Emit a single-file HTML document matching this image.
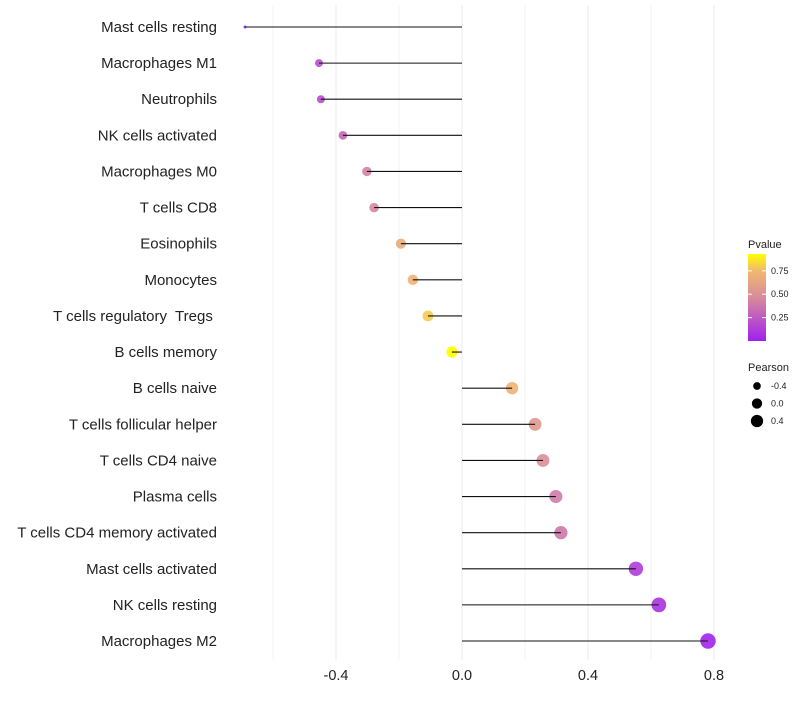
<!DOCTYPE html>
<html><head><meta charset="utf-8"><style>
body{margin:0;background:#fff;font-family:"Liberation Sans",sans-serif}
text{white-space:pre}
</style></head><body>
<svg id="c" width="800" height="700"></svg>
<script>
const cells=["Mast cells resting","Macrophages M1","Neutrophils","NK cells activated","Macrophages M0","T cells CD8","Eosinophils","Monocytes","T cells regulatory  Tregs ","B cells memory","B cells naive","T cells follicular helper","T cells CD4 naive","Plasma cells","T cells CD4 memory activated","Mast cells activated","NK cells resting","Macrophages M2"];
const pearson=[-0.689,-0.454,-0.448,-0.378,-0.302,-0.279,-0.194,-0.156,-0.108,-0.032,0.159,0.232,0.257,0.298,0.314,0.552,0.625,0.781];
const pvalue=[0.05,0.2,0.2,0.3,0.42,0.45,0.68,0.72,0.8,0.93,0.72,0.55,0.48,0.4,0.38,0.12,0.08,0.02];
const xTicks=[-0.4,0.0,0.4,0.8];
const xMinor=[-0.6,-0.2,0.2,0.6];
const legP=[0.25,0.50,0.75];
const legS=[-0.4,0.0,0.4];
const NS="http://www.w3.org/2000/svg";
const svg=document.getElementById('c');
function mk(t,a,p){const e=document.createElementNS(NS,t);for(const k in a)e.setAttribute(k,a[k]);(p||svg).appendChild(e);return e;}
const x=v=>462+v*315;
const y=i=>27+i*(641-27)/17;
const r=v=>1.5+6.2*Math.sqrt(Math.max(0,(v+0.689)/1.47));
const stops=[[0,[160,32,240]],[0.47,[217,140,154]],[0.75,[240,184,112]],[0.93,[255,255,0]]];
function col(p){for(let i=1;i<stops.length;i++){if(p<=stops[i][0]||i==stops.length-1){const a=stops[i-1],b=stops[i];let t=Math.max(0,Math.min(1,(p-a[0])/(b[0]-a[0])));return 'rgb('+a[1].map((c,k)=>Math.round(c+(b[1][k]-c)*t)).join(',')+')';}}}
xMinor.forEach(v=>{const l=mk('line',{x1:x(v),x2:x(v),y1:5,y2:660,stroke:'#f3f3f3','stroke-width':1});

});
xTicks.forEach(v=>{const l=mk('line',{x1:x(v),x2:x(v),y1:5,y2:660,stroke:'#ebebeb','stroke-width':1});


const t=mk('text',{x:x(v),y:680,'text-anchor':'middle','font-size':14.5,fill:'#222'});t.textContent=v.toFixed(1);

});
cells.forEach((c,i)=>{
const t=mk('text',{x:217,y:y(i)+5,'text-anchor':'end','font-size':15,fill:'#222'});t.textContent=c;


const d=mk('circle',{cx:x(pearson[i]),cy:y(i),r:r(pearson[i]),fill:col(pvalue[i]),'fill-opacity':0.9});


const l=mk('line',{x1:x(0),x2:x(pearson[i]),y1:y(i),y2:y(i),stroke:'#111','stroke-width':1.1});


});
const defs=mk('defs',{});const g=mk('linearGradient',{id:'pg',x1:0,y1:1,x2:0,y2:0},defs);
stops.forEach(s=>mk('stop',{offset:s[0]/0.93,'stop-color':'rgb('+s[1].join(',')+')'},g));
let t=mk('text',{x:748,y:248,'font-size':11,fill:'#222'});t.textContent='Pvalue';

const bar=mk('rect',{x:748,y:254,width:18,height:87,fill:'url(#pg)'});

const py=p=>341-p/0.93*87;
legP.forEach(p=>{mk('line',{x1:748,x2:752,y1:py(p),y2:py(p),stroke:'#fff'});mk('line',{x1:762,x2:766,y1:py(p),y2:py(p),stroke:'#fff'});
const tt=mk('text',{x:771,y:py(p)+3,'font-size':9,fill:'#222'});tt.textContent=p.toFixed(2);
});
t=mk('text',{x:748,y:371,'font-size':11,fill:'#222'});t.textContent='Pearson';

legS.forEach((s,i)=>{const cy=386+i*17.5;const cc=mk('circle',{cx:757,cy:cy,r:r(s)*0.9,fill:'#000'});

const tt=mk('text',{x:771,y:cy+3,'font-size':9,fill:'#222'});tt.textContent=s.toFixed(1);
});
</script>
</body></html>
